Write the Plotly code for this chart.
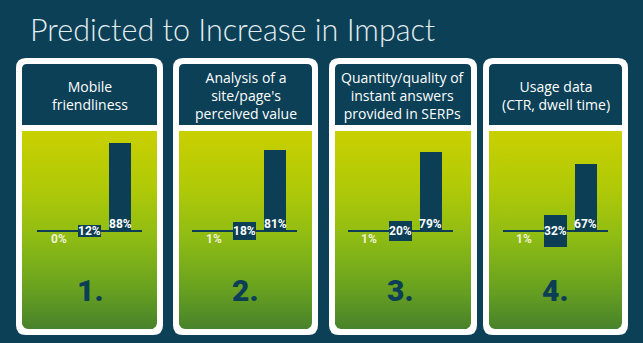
import numpy as np
import plotly.graph_objects as go

# ---------------- data ----------------
title = "Predicted to Increase in Impact"
headers = [
    ["Mobile", "friendliness"],
    ["Analysis of a", "site/page's", "perceived value"],
    ["Quantity/quality of", "instant answers", "provided in SERPs"],
    ["Usage data", "(CTR, dwell time)"],
]
numbers = ["1.", "2.", "3.", "4."]
outcomes = ["Decrease", "Stay the same", "Increase"]
decrease = [0, 1, 1, 1]
same = [12, 18, 20, 32]
increase = [88, 81, 79, 67]

# ---------------- layout constants ----------------
W, H = 643, 343
BG = "#0b4056"
TEAL = "#0c3f55"
panel_x = [(16, 163), (173, 318), (329, 477), (483, 628)]
chart_cx = [89.5, 244.7, 400.0, 555.0]
OUT_TOP, OUT_BOT = 58, 335
HEAD_TOP, HEAD_BOT = 64, 125
GREEN_TOP, GREEN_BOT = 131, 329
BASE_Y = 230.7
BW = 6  # white border thickness


def rr_path(x0, y0, x1, y1, tl, tr, br, bl):
    return (f"M{x0+tl},{y0} L{x1-tr},{y0} Q{x1},{y0} {x1},{y0+tr} "
            f"L{x1},{y1-br} Q{x1},{y1} {x1-br},{y1} L{x0+bl},{y1} "
            f"Q{x0},{y1} {x0},{y1-bl} L{x0},{y0+tl} Q{x0},{y0} {x0+tl},{y0} Z")


def rr_points(x0, y0, x1, y1, tl, tr, br, bl, n=10):
    xs, ys = [], []

    def arc(cx, cy, r, a0, a1):
        for a in np.linspace(a0, a1, n):
            xs.append(cx + r * np.cos(a))
            ys.append(cy + r * np.sin(a))
    arc(x0 + tl, y0 + tl, tl, np.pi, 1.5 * np.pi)
    arc(x1 - tr, y0 + tr, tr, 1.5 * np.pi, 2 * np.pi)
    arc(x1 - br, y1 - br, br, 0, 0.5 * np.pi)
    arc(x0 + bl, y1 - bl, bl, 0.5 * np.pi, np.pi)
    xs.append(xs[0]); ys.append(ys[0])
    return xs, ys


fig = go.Figure()
shapes = []
annotations = []

grad = [[0.0, "#c9d000"], [0.3, "#afc908"], [0.55, "#8dbb14"],
        [0.8, "#68a120"], [1.0, "#48822b"]]

for i, (x0, x1) in enumerate(panel_x):
    shapes.append(dict(type="path", xref="x", yref="y", layer="below",
                       path=rr_path(x0, OUT_TOP, x1, OUT_BOT, 10, 10, 10, 10),
                       fillcolor="white", line=dict(width=0)))
    shapes.append(dict(type="path", xref="x", yref="y", layer="below",
                       path=rr_path(x0 + BW, HEAD_TOP, x1 - BW, HEAD_BOT, 5, 5, 0, 0),
                       fillcolor=BG, line=dict(width=0)))
    gx, gy = rr_points(x0 + BW, GREEN_TOP, x1 - BW, GREEN_BOT, 0.01, 0.01, 6, 6)
    fig.add_trace(go.Scatter(
        x=gx, y=gy, mode="lines", fill="toself", line=dict(width=0),
        fillgradient=dict(type="vertical", colorscale=grad,
                          start=GREEN_TOP, stop=GREEN_BOT),
        hoverinfo="skip", showlegend=False, xaxis="x", yaxis="y"))

    pc = (x0 + x1) / 2
    annotations.append(dict(
        xref="x", yref="y", x=pc, y=95, text="<br>".join(headers[i]),
        showarrow=False, xanchor="center", yanchor="middle", align="center",
        font=dict(family="Open Sans", size=14, color="white")))

    annotations.append(dict(
        xref="x", yref="y", x=chart_cx[i], y=290, text=numbers[i],
        showarrow=False, xanchor="center", yanchor="middle",
        font=dict(family="Roboto", size=30, color=TEAL, weight=900)))

    k = i + 2
    xa, ya = f"x{k}", f"y{k}"
    fig.add_trace(go.Bar(
        x=[0, 1, 2], y=[-decrease[i], same[i], increase[i]],
        base=[0, -same[i] / 2, 0], width=0.75,
        marker=dict(color=TEAL, line=dict(width=0)),
        hovertext=outcomes, showlegend=False, xaxis=xa, yaxis=ya))

    lab_font = dict(family="Roboto", size=12, weight="bold")
    annotations.append(dict(xref=xa, yref=ya, x=0, y=-8, text=f"{decrease[i]}%",
                            showarrow=False, yanchor="middle",
                            font=dict(lab_font, color="#eff2d4")))
    annotations.append(dict(xref=xa, yref=ya, x=1, y=0, text=f"{same[i]}%",
                            showarrow=False, yanchor="middle",
                            font=dict(lab_font, color="white")))
    annotations.append(dict(xref=xa, yref=ya, x=2, y=6.5, text=f"{increase[i]}%",
                            showarrow=False, yanchor="middle",
                            font=dict(lab_font, color="white")))

    cx = chart_cx[i]
    fig.update_layout(**{
        f"xaxis{k}": dict(domain=[(cx - 52.5) / W, (cx + 52.5) / W],
                          range=[-0.72, 2.72], visible=False, anchor=ya,
                          fixedrange=True),
        f"yaxis{k}": dict(domain=[1 - (BASE_Y + 100) / H, 1 - (BASE_Y - 100) / H],
                          range=[-100, 100], anchor=xa, showgrid=False,
                          showticklabels=False, ticks="", showline=False,
                          zeroline=True, zerolinecolor=TEAL, zerolinewidth=2,
                          fixedrange=True),
    })

annotations.append(dict(
    xref="x", yref="y", x=28, y=29, text=title, showarrow=False,
    xanchor="left", yanchor="middle",
    font=dict(family="Lato Light, Lato", size=30.5, color="#e4edf1", weight=300)))

fig.update_layout(
    width=W, height=H, margin=dict(l=0, r=0, t=0, b=0),
    paper_bgcolor=BG, plot_bgcolor="rgba(0,0,0,0)",
    xaxis=dict(domain=[0, 1], range=[0, W], visible=False, fixedrange=True),
    yaxis=dict(domain=[0, 1], range=[H, 0], visible=False, fixedrange=True),
    shapes=shapes, annotations=annotations, bargap=0, showlegend=False,
)

fig.write_html("out.html", config={"displayModeBar": False})
